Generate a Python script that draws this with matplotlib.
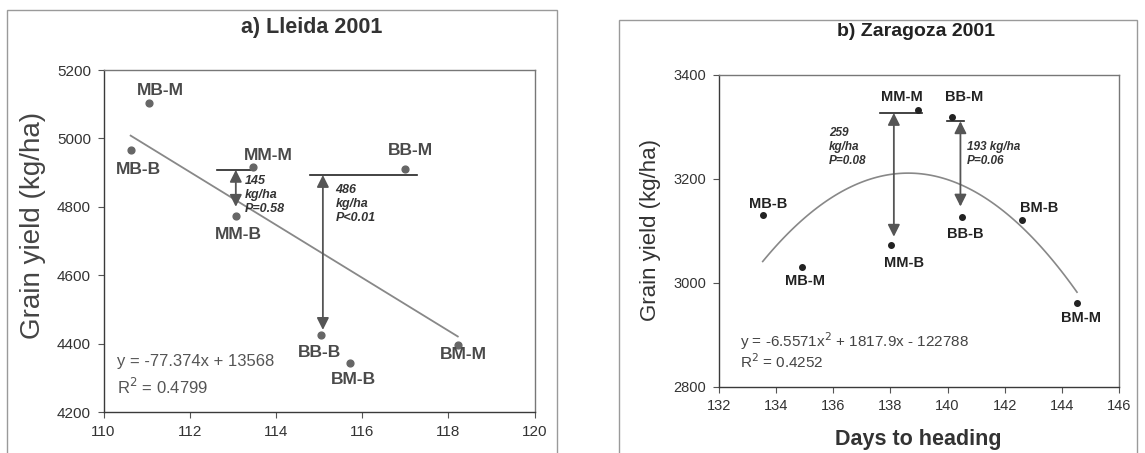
import matplotlib
matplotlib.use("Agg")
import matplotlib.pyplot as plt
from matplotlib.patches import Rectangle
import numpy as np

plt.rcParams['font.family'] = ['Liberation Sans', 'DejaVu Sans']

# ---------------- a) Lleida 2001 ----------------
lle_names = ["MB-M", "MB-B", "MM-M", "MM-B", "BB-M", "BB-B", "BM-B", "BM-M"]
lle_days = [111.05, 110.63, 113.46, 113.07, 117.0, 115.05, 115.73, 118.22]
lle_yield = [5103, 4966, 4917, 4772, 4910, 4424, 4342, 4396]
lle_label_xy = [(111.32, 5141), (110.82, 4908), (113.83, 4951), (113.14, 4720),
                (117.11, 4964), (115.02, 4373), (115.81, 4294), (118.35, 4367)]
lle_fit = [-77.374, 13568]
lle_r2 = 0.4799
# comparisons: (text, text xy, hline y, hline x-range, arrow x, arrow y-range)
lle_cmp = [("145\nkg/ha\nP=0.58", (113.27, 4834), 4908, (112.64, 113.5), 113.07, (4908, 4800)),
           ("486\nkg/ha\nP<0.01", (115.38, 4808), 4893, (114.78, 117.28), 115.09, (4893, 4440))]

# ---------------- b) Zaragoza 2001 ----------------
zar_names = ["MB-B", "MB-M", "MM-M", "MM-B", "BB-M", "BB-B", "BM-B", "BM-M"]
zar_days = [133.53, 134.9, 138.95, 138.02, 140.17, 140.52, 142.6, 144.53]
zar_yield = [3131, 3031, 3333, 3074, 3320, 3127, 3121, 2962]
zar_label_xy = [(133.73, 3152), (135.01, 3004), (138.39, 3357), (138.48, 3038),
                (140.58, 3357), (140.61, 3094), (143.19, 3144), (144.66, 2932)]
zar_fit = [-6.5571, 1817.9, -122788]
zar_r2 = 0.4252
zar_cmp = [("259\nkg/ha\nP=0.08", (135.85, 3262), 3327, (137.65, 139.1), 138.12, (3327, 3089)),
           ("193 kg/ha\nP=0.06", (140.68, 3248), 3311, (139.99, 140.57), 140.45, (3311, 3147))]

W, H = 1145, 453
fig = plt.figure(figsize=(W / 100, H / 100), dpi=100)
fig.patch.set_facecolor('white')

# chart-area borders
fig.patches.append(Rectangle((7 / W, -0.2), 550 / W, (H - 10) / H + 0.2,
                             transform=fig.transFigure, fill=False, ec='#9a9a9a', lw=1.0))
fig.patches.append(Rectangle((619 / W, -0.2), 518 / W, (H - 20) / H + 0.2,
                             transform=fig.transFigure, fill=False, ec='#9a9a9a', lw=1.0))

axL = fig.add_axes([103.5 / W, (H - 412) / H, 431 / W, 342 / H])
axR = fig.add_axes([719 / W, (H - 387) / H, 400 / W, 312 / H])


def style_axes(ax, xlim, ylim, xticks, yticks, fs):
    ax.set_xlim(*xlim)
    ax.set_ylim(*ylim)
    ax.set_xticks(xticks)
    ax.set_yticks(yticks)
    for side in ['left', 'bottom']:
        ax.spines[side].set_color('#3a3a3a')
        ax.spines[side].set_linewidth(1.0)
    for side in ['top', 'right']:
        ax.spines[side].set_color('#777777')
        ax.spines[side].set_linewidth(1.0)
    ax.tick_params(direction='out', length=4, width=0.8, color='#555555',
                   labelsize=fs, labelcolor='#333333', pad=5)


def draw_compare(ax, cmp, fs):
    for txt, txy, hy, hx, ax_x, ay in cmp:
        ax.plot(hx, [hy, hy], color='#222222', lw=1.2)
        ax.annotate("", xy=(ax_x, ay[1]), xytext=(ax_x, ay[0]),
                    arrowprops=dict(arrowstyle='<|-|>', color='#555555', lw=1.3,
                                    mutation_scale=18, shrinkA=0, shrinkB=0))
        ax.text(txy[0], txy[1], txt, fontsize=fs, style='italic', fontweight='bold',
                color='#333333', ha='left', va='center', linespacing=1.25)


# ---- left panel ----
style_axes(axL, (110, 120), (4200, 5200), np.arange(110, 121, 2),
           np.arange(4200, 5201, 200), 11)
xl = np.linspace(min(lle_days), max(lle_days), 50)
axL.plot(xl, np.polyval(lle_fit, xl), color='#888888', lw=1.3)
axL.scatter(lle_days, lle_yield, s=24, color='#666666', zorder=3)
for name, (lx, ly) in zip(lle_names, lle_label_xy):
    axL.text(lx, ly, name, fontsize=12.5, fontweight='bold', color='#4a4a4a',
             ha='center', va='center')
draw_compare(axL, lle_cmp, 9)
axL.text(110.32, 4347, f"y = {lle_fit[0]}x + {lle_fit[1]}", fontsize=12,
         color='#555555', ha='left', va='center')
axL.text(110.32, 4274, f"R$^2$ = {lle_r2}", fontsize=12,
         color='#555555', ha='left', va='center')
fig.text(312 / W, 1 - 28 / H, "a) Lleida 2001", fontsize=15.5, fontweight='bold',
         color='#333333', ha='center', va='center')
fig.text(33 / W, 1 - 225 / H, "Grain yield (kg/ha)", fontsize=20, rotation=90,
         color='#444444', ha='center', va='center')

# ---- right panel ----
style_axes(axR, (132, 146), (2800, 3400), np.arange(132, 147, 2),
           np.arange(2800, 3401, 200), 10.5)
xr = np.linspace(min(zar_days), max(zar_days), 100)
axR.plot(xr, np.polyval(zar_fit, xr), color='#888888', lw=1.2)
axR.scatter(zar_days, zar_yield, s=16, color='#222222', zorder=3)
for name, (lx, ly) in zip(zar_names, zar_label_xy):
    axR.text(lx, ly, name, fontsize=10.5, fontweight='bold', color='#222222',
             ha='center', va='center')
draw_compare(axR, zar_cmp, 8.5)
axR.text(132.74, 2888,
         f"y = {zar_fit[0]}x$^2$ + {zar_fit[1]}x - {abs(zar_fit[2])}",
         fontsize=11, color='#444444', ha='left', va='center')
axR.text(132.74, 2848, f"R$^2$ = {zar_r2}", fontsize=11,
         color='#444444', ha='left', va='center')
fig.text(916 / W, 1 - 32 / H, "b) Zaragoza 2001", fontsize=14, fontweight='bold',
         color='#222222', ha='center', va='center')
fig.text(651 / W, 1 - 230 / H, "Grain yield (kg/ha)", fontsize=16, rotation=90,
         color='#333333', ha='center', va='center')
fig.text(918 / W, 1 - 440 / H, "Days to heading", fontsize=15.5, fontweight='bold',
         color='#333333', ha='center', va='center')

fig.savefig("out.png", dpi=100, facecolor='white')
